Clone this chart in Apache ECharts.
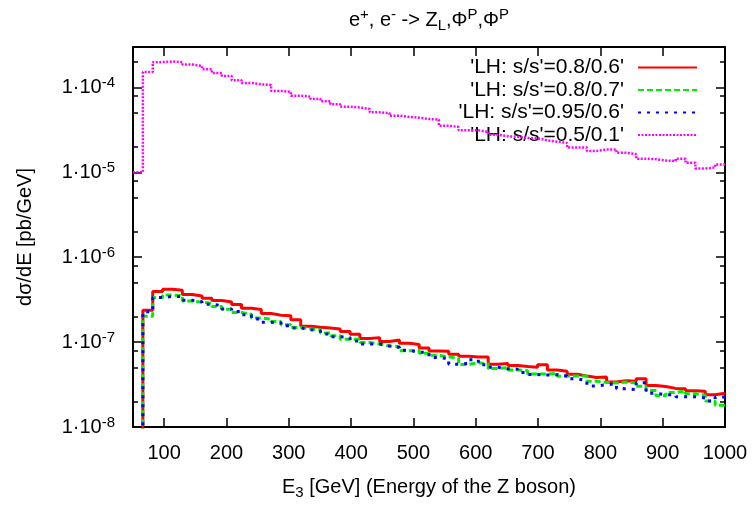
<!DOCTYPE html>
<html><head><meta charset="utf-8">
<script src="https://cdn.jsdelivr.net/npm/echarts@6.0.0/dist/echarts.min.js"></script>
<style>html,body{margin:0;padding:0;background:#fff}#c{width:753px;height:505px}</style>
</head><body><div id="c"></div>
<script>
// histogram binning (60 bins from 50 to 1000 GeV)
const binLow = 50, binHigh = 1000, nBins = 60;
const ZERO = 1e-12; // empty bin (below plotted range)

const redVals = [ZERO,2.38e-7,3.95e-7,4.2e-7,4.08e-7,3.65e-7,3.5e-7,3.28e-7,3.1e-7,2.97e-7,
 2.77e-7,2.5e-7,2.43e-7,2.18e-7,2.07e-7,2.05e-7,1.83e-7,1.54e-7,1.5e-7,1.47e-7,
 1.43e-7,1.33e-7,1.24e-7,1.1e-7,1.13e-7,1.02e-7,1.06e-7,9.7e-8,9.4e-8,8.55e-8,
 7.85e-8,7.8e-8,7.2e-8,6.8e-8,6.7e-8,6.7e-8,5.5e-8,5.6e-8,5.3e-8,5.15e-8,
 5.05e-8,5.43e-8,4.7e-8,4.55e-8,4.19e-8,3.98e-8,3.83e-8,3.88e-8,3.38e-8,3.5e-8,
 3.46e-8,3.7e-8,3.09e-8,3.0e-8,2.85e-8,2.83e-8,2.68e-8,2.64e-8,2.4e-8,2.5e-8];
const greenVals = [ZERO,2.02e-7,3.36e-7,3.58e-7,3.53e-7,3.05e-7,2.95e-7,2.87e-7,2.62e-7,2.44e-7,
 2.23e-7,2.13e-7,1.92e-7,1.87e-7,1.75e-7,1.6e-7,1.49e-7,1.44e-7,1.4e-7,1.28e-7,
 1.19e-7,1.08e-7,1.08e-7,9.9e-8,9.5e-8,9.0e-8,8.9e-8,7.9e-8,8.0e-8,7.4e-8,
 7.0e-8,6.7e-8,6.45e-8,5.45e-8,5.7e-8,5.55e-8,4.9e-8,5.0e-8,4.7e-8,4.6e-8,
 4.2e-8,4.2e-8,4.3e-8,3.97e-8,4.0e-8,3.98e-8,3.45e-8,3.35e-8,3.3e-8,3.38e-8,
 3.3e-8,3.02e-8,2.7e-8,2.34e-8,2.55e-8,2.66e-8,2.47e-8,2.36e-8,2.02e-8,1.81e-8];
const blueVals = [ZERO,2.28e-7,3.35e-7,3.46e-7,3.43e-7,3.11e-7,2.99e-7,2.79e-7,2.7e-7,2.46e-7,
 2.3e-7,2.1e-7,1.87e-7,1.71e-7,1.69e-7,1.56e-7,1.47e-7,1.4e-7,1.36e-7,1.25e-7,
 1.16e-7,1.13e-7,1.03e-7,9.5e-8,9.5e-8,9.0e-8,8.65e-8,8.0e-8,7.6e-8,7.55e-8,
 6.6e-8,6.4e-8,5.5e-8,5.6e-8,6.2e-8,5.4e-8,5.05e-8,4.85e-8,4.8e-8,4.4e-8,
 4.15e-8,4.1e-8,4.13e-8,4.0e-8,3.7e-8,3.53e-8,3.05e-8,3.15e-8,3.23e-8,2.82e-8,
 2.75e-8,3.32e-8,2.5e-8,2.4e-8,2.4e-8,2.27e-8,2.27e-8,2.2e-8,2.03e-8,2.26e-8];
const magentaVals = [1.0e-5,1.52e-4,1.99e-4,2.02e-4,1.99e-4,1.87e-4,1.79e-4,1.64e-4,1.48e-4,1.37e-4,
 1.22e-4,1.13e-4,1.09e-4,1.07e-4,9.1e-5,8.9e-5,8.0e-5,7.8e-5,7.3e-5,6.9e-5,
 6.35e-5,5.95e-5,5.8e-5,5.6e-5,5.1e-5,5.0e-5,4.65e-5,4.5e-5,4.4e-5,4.25e-5,
 4.2e-5,3.55e-5,3.42e-5,3.13e-5,3.13e-5,3.0e-5,2.78e-5,2.66e-5,2.63e-5,2.54e-5,
 2.52e-5,2.39e-5,2.3e-5,2.22e-5,1.96e-5,1.96e-5,1.79e-5,1.86e-5,1.86e-5,1.7e-5,
 1.64e-5,1.45e-5,1.43e-5,1.38e-5,1.36e-5,1.45e-5,1.3e-5,1.11e-5,1.14e-5,1.24e-5];

const seriesNames = ["'LH: s/s'=0.8/0.6'", "'LH: s/s'=0.8/0.7'", "'LH: s/s'=0.95/0.6'", "'LH: s/s'=0.5/0.1'"];
const xTicks = [100,200,300,400,500,600,700,800,900,1000];
const yTicks = [1e-8,1e-7,1e-6,1e-5,1e-4];
const yMinorTicks = [2e-8,5e-8,8e-8,2e-7,5e-7,8e-7,2e-6,5e-6,8e-6,2e-5,5e-5,8e-5,2e-4];
const xMin = 50, xMax = 1000, yMin = 1e-8, yMax = 3e-4;

const FONT = "'Liberation Sans', Arial, sans-serif";

function steps(vals) {
  const w = (binHigh - binLow) / nBins;
  const pts = vals.map((v, i) => [binLow + i * w, v]);
  pts.push([binHigh, vals[vals.length - 1]]);
  return pts;
}

const chart = echarts.init(document.getElementById('c'), null, {renderer: 'canvas'});

const axisLineStyle = {color: '#000', width: 2};
const tickStyle = {color: '#000', width: 1.5};

function yAxisDef(pos, ticks, len, withLabels) {
  const a = {
    type: 'log', logBase: 10, min: yMin, max: yMax, position: pos,
    axisLine: {show: true, lineStyle: axisLineStyle},
    axisTick: {show: true, inside: true, length: len, customValues: ticks, lineStyle: tickStyle},
    splitLine: {show: false},
    axisLabel: {show: false}
  };
  if (withLabels) {
    a.axisLabel = {
      show: true, customValues: ticks, margin: 18, color: '#000',
      fontFamily: FONT, fontSize: 20, lineHeight: 24,
      formatter: v => '1·10{sup|' + Math.round(Math.log10(v)) + '}',
      rich: {sup: {fontFamily: FONT, fontSize: 15, lineHeight: 13, verticalAlign: 'top', color: '#000'}}
    };
    a.name = 'dσ/dE [pb/GeV]';
    a.nameLocation = 'middle';
    a.nameGap = 98;
    a.nameTextStyle = {fontFamily: FONT, fontSize: 20, color: '#000'};
  }
  return a;
}

const option = {
  animation: false,
  backgroundColor: '#fff',
  grid: {left: 133, top: 47, width: 592, height: 385, containLabel: false},
  xAxis: [
    {
      type: 'value', min: xMin, max: xMax, position: 'bottom',
      axisLine: {show: true, onZero: false, lineStyle: axisLineStyle},
      axisTick: {show: true, inside: true, length: 9, customValues: xTicks, lineStyle: tickStyle},
      axisLabel: {customValues: xTicks, margin: 16, color: '#000', fontFamily: FONT, fontSize: 20,
        formatter: v => String(v)},
      splitLine: {show: false},
      name: 'E{sub|3} [GeV] (Energy of the Z boson)',
      nameLocation: 'middle', nameGap: 47,
      nameTextStyle: {fontFamily: FONT, fontSize: 20, color: '#000', lineHeight: 26,
        rich: {sub: {fontFamily: FONT, fontSize: 15, lineHeight: 13, verticalAlign: 'bottom', color: '#000'}}}
    },
    {
      type: 'value', min: xMin, max: xMax, position: 'top',
      axisLine: {show: true, onZero: false, lineStyle: axisLineStyle},
      axisTick: {show: true, inside: true, length: 9, customValues: xTicks, lineStyle: tickStyle},
      axisLabel: {show: false},
      splitLine: {show: false},
      name: 'e{sup|+}, e{sup|-} -> Z{sub|L},Φ{sup|P},Φ{sup|P}',
      nameLocation: 'middle', nameGap: 14,
      nameTextStyle: {fontFamily: FONT, fontSize: 20, color: '#000', lineHeight: 26,
        rich: {
          sup: {fontFamily: FONT, fontSize: 15, lineHeight: 13, verticalAlign: 'top', color: '#000'},
          sub: {fontFamily: FONT, fontSize: 15, lineHeight: 13, verticalAlign: 'bottom', color: '#000'}
        }}
    }
  ],
  yAxis: [
    yAxisDef('left', yTicks, 9, true),
    yAxisDef('right', yTicks, 9, false),
    Object.assign(yAxisDef('left', yMinorTicks, 5, false), {axisLine: {show: false}}),
    Object.assign(yAxisDef('right', yMinorTicks, 5, false), {axisLine: {show: false}})
  ],
  legend: {
    data: seriesNames, orient: 'vertical', align: 'right',
    right: 55, top: 57, padding: 0, itemGap: 1.5,
    itemWidth: 59, itemHeight: 14, selectedMode: false,
    itemStyle: {opacity: 0, borderWidth: 0},
    textStyle: {fontFamily: FONT, fontSize: 21, lineHeight: 20, color: '#000', padding: [0, 9, 0, 0]}
  },
  series: [
    {name: seriesNames[0], type: 'line', step: 'end', data: steps(redVals), symbol: 'none', showSymbol: false,
     color: '#ff0000', lineStyle: {color: '#ff0000', width: 3}, z: 2},
    {name: seriesNames[1], type: 'line', step: 'end', data: steps(greenVals), symbol: 'none', showSymbol: false,
     color: '#00ee00', lineStyle: {color: '#00ee00', width: 3, type: [6, 3]}, z: 3},
    {name: seriesNames[2], type: 'line', step: 'end', data: steps(blueVals), symbol: 'none', showSymbol: false,
     color: '#0000ff', lineStyle: {color: '#0000ff', width: 3, type: [3, 6]}, z: 4},
    {name: seriesNames[3], type: 'line', step: 'end', data: steps(magentaVals), symbol: 'none', showSymbol: false,
     color: '#ff00ff', lineStyle: {color: '#ff00ff', width: 2.5, type: [2, 1.5]}, z: 5}
  ]
};
chart.setOption(option);
</script>
</body></html>
